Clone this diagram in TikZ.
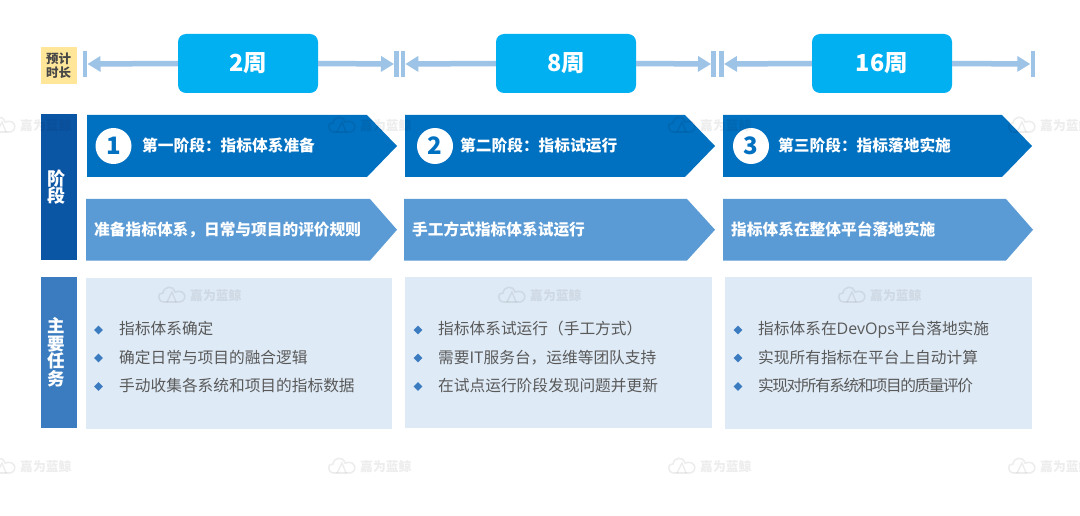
\documentclass[tikz,border=0pt]{standalone}
\usepackage{fontspec}
\setmainfont{Noto Sans CJK SC}
\newfontfamily\latinf{Open Sans}
\usetikzlibrary{arrows.meta,shapes.geometric}
\definecolor{durbox}{HTML}{00B0F0}
\definecolor{durline}{HTML}{9DC3E6}
\definecolor{stagedark}{HTML}{0070C0}
\definecolor{stagelight}{HTML}{5B9BD5}
\definecolor{panelone}{HTML}{0B55A5}
\definecolor{paneltwo}{HTML}{3B7CC0}
\definecolor{taskbg}{HTML}{DEEAF6}
\definecolor{tagbg}{HTML}{FFE699}
\definecolor{tasktext}{HTML}{595959}
\newcommand{\fs}[1]{\fontsize{#1pt}{#1pt}\selectfont}
\tikzset{
  x=1pt,y=-1pt,
  durationbox/.style={fill=durbox,rounded corners=8pt,minimum width=140pt,minimum height=59pt,inner sep=0pt,text=white,font=\fs{23.5}\bfseries},
  endbar/.style={fill=durline,minimum width=4.6pt,minimum height=26pt,inner sep=0pt},
  spanline/.style={draw=durline,line width=5.5pt,-{Triangle[length=13pt,width=15pt]}},
  sidepanel/.style={minimum width=36pt,inner sep=0pt,text=white,font=\fs{17.5}\bfseries,align=center},
  paneltxt/.style={inner sep=0pt,text=white,font=\fs{17.5}\bfseries,align=center},
  stagetext/.style={anchor=west,inner sep=0pt,text=white,text height=14pt,text depth=3pt,font=\fs{15.7}\bfseries},
  numdisc/.style={circle,fill=white,minimum size=36pt,inner sep=0pt,text=stagedark,font=\fs{24}\bfseries},
  taskbox/.style={fill=taskbg,anchor=north west,inner sep=0pt},
  tasktxt/.style={anchor=west,inner sep=0pt,text=tasktext,text height=14pt,text depth=3pt,font=\fs{15.7}},
  taskdot/.style={diamond,aspect=1,fill=paneltwo,minimum size=9pt,inner sep=0pt},
  wmark/.style={black,opacity=0.07}
}
% name, x0, shoulder, tip, ytop, ybottom, colour
\newcommand{\stagearrow}[7]{%
  \fill[#7] (#2,#5) -- (#3,#5) -- (#4,{(#5+#6)/2}) -- (#3,#6) -- (#2,#6) -- cycle;
  \coordinate (#1) at (#2,{(#5+#6)/2});}
% x of icon, y centre of row
\newcommand{\wm}[2]{%
  \begin{scope}[shift={(#1,#2)}]
    \draw[wmark,line width=1.6pt] (6,7) .. controls (-1,7) and (-1,-3) .. (5,-2)
       .. controls (6,-9) and (15,-10) .. (17,-3)
       .. controls (29,-7) and (30,8) .. (20,7) -- cycle;
    \draw[wmark,line width=1.4pt] (9,7) -- (14,-3) -- (18,7);
    \node[anchor=west,inner sep=0pt,wmark,text opacity=0.07,font=\fs{12.8}\bfseries] at (32,1) {嘉为蓝鲸};
  \end{scope}}
\begin{document}
\begin{tikzpicture}
\useasboundingbox (0,0) rectangle (1080,516);
\clip (0,0) rectangle (1080,516);
\fill[white] (0,0) rectangle (1080,516);

% duration row
\node[fill=tagbg,minimum width=36pt,minimum height=37pt,inner sep=0pt,font=\fs{12.5}\bfseries,text=black!72,align=center] (tag) at (58.5,65.5) {预计\\[1.5pt]时长};
\node[durationbox] (d1) at (248,63.5) {2周};
\node[durationbox] (d2) at (566,63.5) {8周};
\node[durationbox] (d3) at (882,63.5) {16周};
\node[endbar] (b0) at (85,64) {};
\node[endbar] (b1) at (396.5,64) {};
\node[endbar] (b2) at (402.8,64) {};
\node[endbar] (b3) at (713.5,64) {};
\node[endbar] (b4) at (721.5,64) {};
\node[endbar] (b5) at (1032.8,64) {};
\draw[spanline] (d1.west) -- (b0.east);
\draw[spanline] (d1.east) -- (b1.west);
\draw[spanline] (d2.west) -- (b2.east);
\draw[spanline] (d2.east) -- (b3.west);
\draw[spanline] (d3.west) -- (b4.east);
\draw[spanline] (d3.east) -- (b5.west);

% side panels
\node[sidepanel,fill=panelone,minimum height=146pt] (p1) at (59,187) {};
\node[paneltxt,font=\fs{18}\bfseries] (p1t) at (56.5,187) {阶\\[-0.5pt]段};
\node[sidepanel,fill=paneltwo,minimum height=151pt] (p2) at (59,352.5) {};
\node[paneltxt] (p2t) at (56.5,352.5) {主\\要\\任\\务};

% stage arrows
\stagearrow{a1}{87}{367}{397}{115}{177}{stagedark}
\stagearrow{a2}{405}{685}{715}{115}{177}{stagedark}
\stagearrow{a3}{723}{1002}{1032}{115}{177}{stagedark}
\stagearrow{c1}{86}{370}{397}{199}{260.5}{stagelight}
\stagearrow{c2}{404}{687}{715}{199}{260.5}{stagelight}
\stagearrow{c3}{723}{1006}{1033}{199}{260.5}{stagelight}

\node[numdisc] (n1) at (113.5,146) {1};
\node[numdisc] (n2) at (435,146) {2};
\node[numdisc] (n3) at (751,146) {3};
\node[stagetext] (t1) at (142,146.5) {第一阶段：指标体系准备};
\node[stagetext] (t2) at (460,146.5) {第二阶段：指标试运行};
\node[stagetext] (t3) at (778,146.5) {第三阶段：指标落地实施};
\node[stagetext] (s1) at (94,230) {准备指标体系，日常与项目的评价规则};
\node[stagetext] (s2) at (412,230) {手工方式指标体系试运行};
\node[stagetext] (s3) at (731,230) {指标体系在整体平台落地实施};

% task boxes
\node[taskbox,minimum width=306.5pt,minimum height=151.5pt] (k1) at (85.5,277.5) {};
\node[taskbox,minimum width=307pt,minimum height=151pt] (k2) at (405,277) {};
\node[taskbox,minimum width=307.5pt,minimum height=152pt] (k3) at (724.5,277) {};

\foreach \dx/\tx/\a/\b/\c in {
  98.5/119/指标体系确定/确定日常与项目的融合逻辑/手动收集各系统和项目的指标数据,
  418/438/指标体系试运行（手工方式）/需要IT服务台，运维等团队支持/在试点运行阶段发现问题并更新,
  738/758/指标体系在{\latinf\fs{16}DevOps}平台落地实施/实现所有指标在平台上自动计算/{\addfontfeature{LetterSpace=-9.4}实现对所有系统和项目的质量评价}}{
  \node[taskdot] at (\dx,330) {};
  \node[taskdot] at (\dx,358) {};
  \node[taskdot] at (\dx,386.5) {};
  \node[tasktxt] at (\tx,329) {\a};
  \node[tasktxt] at (\tx,357.5) {\b};
  \node[tasktxt] at (\tx,385.5) {\c};
}

% watermarks
\foreach \wx in {-12,328,668,1008}{
  \wm{\wx}{125}
  \wm{\wx}{466}
}
\foreach \wx in {158,498,838}{
  \wm{\wx}{295}
}
\end{tikzpicture}
\end{document}
